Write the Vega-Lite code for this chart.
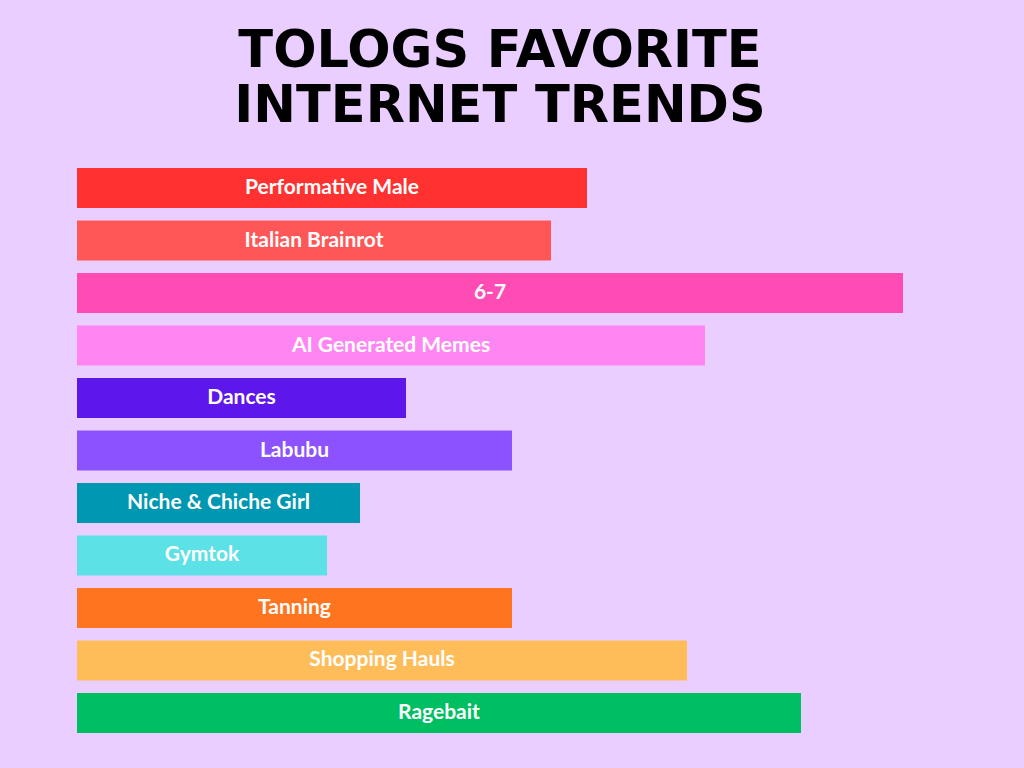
{
  "$schema": "https://vega.github.io/schema/vega-lite/v6.json",
  "autosize": {"type": "none"},
  "width": 940,
  "height": 565,
  "padding": {"left": 77, "top": 168, "right": 7, "bottom": 35},
  "background": "#EACEFF",
  "title": {
    "text": ["TOLOGS FAVORITE", "INTERNET TRENDS"],
    "font": "DejaVu Sans",
    "fontWeight": "bold",
    "fontSize": 51,
    "lineHeight": 55,
    "color": "#000000",
    "anchor": "middle",
    "dx": -47,
    "offset": 35
  },
  "config": {"view": {"stroke": null}},
  "data": {
    "values": [
      {"trend": "Performative Male", "score": 51.0},
      {"trend": "Italian Brainrot", "score": 47.4},
      {"trend": "6-7", "score": 82.6},
      {"trend": "AI Generated Memes", "score": 62.8},
      {"trend": "Dances", "score": 32.9},
      {"trend": "Labubu", "score": 43.5},
      {"trend": "Niche & Chiche Girl", "score": 28.3},
      {"trend": "Gymtok", "score": 25.0},
      {"trend": "Tanning", "score": 43.5},
      {"trend": "Shopping Hauls", "score": 61.0},
      {"trend": "Ragebait", "score": 72.4}
    ]
  },
  "encoding": {
    "y": {
      "field": "trend",
      "type": "nominal",
      "sort": null,
      "axis": null,
      "scale": {"paddingInner": 0.238, "paddingOuter": 0}
    }
  },
  "layer": [
    {
      "mark": {"type": "bar", "cornerRadius": 0},
      "encoding": {
        "x": {"field": "score", "type": "quantitative", "axis": null, "scale": {"domain": [0, 94], "nice": false}},
        "color": {
          "field": "trend",
          "type": "nominal",
          "legend": null,
          "scale": {
            "domain": ["Performative Male", "Italian Brainrot", "6-7", "AI Generated Memes", "Dances", "Labubu", "Niche & Chiche Girl", "Gymtok", "Tanning", "Shopping Hauls", "Ragebait"],
            "range": ["#FF3131", "#FF5757", "#FF4BB4", "#FF86F2", "#5E17EB", "#8C52FF", "#0097B2", "#5CE1E6", "#FF751F", "#FFBD59", "#00BF63"]
          }
        }
      }
    },
    {
      "mark": {"type": "text", "font": "Lato", "fontWeight": "bold", "fontSize": 21, "color": "#FFFFFF", "align": "center", "baseline": "middle"},
      "encoding": {
        "x": {"field": "score", "type": "quantitative", "axis": null, "scale": {"domain": [0, 188], "nice": false}},
        "text": {"field": "trend"}
      }
    }
  ],
  "resolve": {"scale": {"x": "independent"}}
}
